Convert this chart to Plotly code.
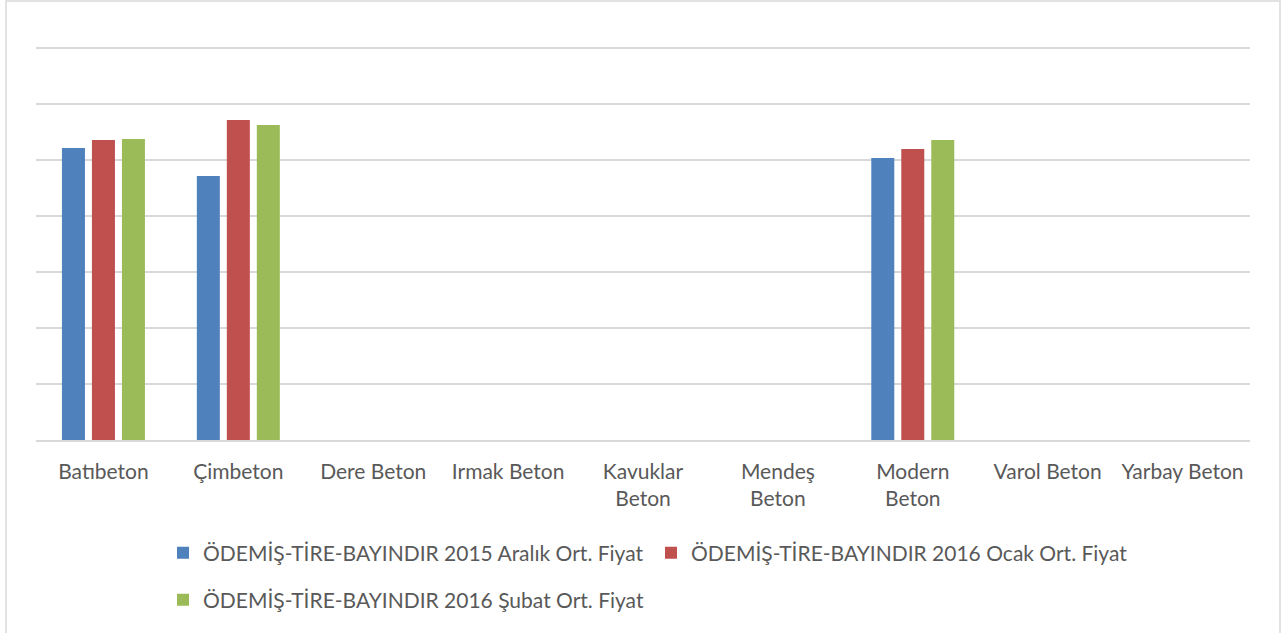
import plotly.graph_objects as go

categories = ["Batıbeton", "Çimbeton", "Dere Beton", "Irmak Beton", "Kavuklar<br>Beton",
              "Mendeş<br>Beton", "Modern<br>Beton", "Varol Beton", "Yarbay Beton"]
series_names = ["ÖDEMİŞ-TİRE-BAYINDIR 2015 Aralık Ort. Fiyat",
                "ÖDEMİŞ-TİRE-BAYINDIR 2016 Ocak Ort. Fiyat",
                "ÖDEMİŞ-TİRE-BAYINDIR 2016 Şubat Ort. Fiyat"]
aralik_2015 = [104.3, 94.3, None, None, None, None, 100.7, None, None]
ocak_2016 = [107.1, 114.3, None, None, None, None, 103.9, None, None]
subat_2016 = [107.5, 112.5, None, None, None, None, 107.1, None, None]
colors = ["#4F81BD", "#C0504D", "#9BBB59"]
legend_ids = ["legend", "legend", "legend2"]

fig = go.Figure()
for name, vals, c, lg in zip(series_names, [aralik_2015, ocak_2016, subat_2016], colors, legend_ids):
    fig.add_trace(go.Bar(x=categories, y=vals, name=name, marker_color=c,
                         marker_line_width=0, legend=lg))

W, H = 1286, 633
ml, mr, mt, mb = 36, 36, 45, 193
pw, ph = W - ml - mr, H - mt - mb

def px_x(x):
    return (x - ml) / pw

def px_y(y):
    return (H - mb - y) / ph

fig.add_shape(type="rect", xref="paper", yref="paper",
              x0=px_x(6), x1=px_x(1280), y0=px_y(645), y1=px_y(1),
              line=dict(color="#D9D9D9", width=1.5), fillcolor="rgba(0,0,0,0)", layer="below")

font = dict(family="Lato, 'Open Sans', sans-serif", size=21, color="#595959")
legend_common = dict(orientation="h", xanchor="left", yanchor="middle",
                     font=font, itemwidth=30, entrywidth=443,
                     bgcolor="rgba(0,0,0,0)")
fig.update_layout(
    width=W, height=H,
    margin=dict(l=ml, r=mr, t=mt, b=mb),
    paper_bgcolor="white", plot_bgcolor="white",
    barmode="group", bargap=0.333, bargroupgap=0.233,
    font=font,
    showlegend=True,
    legend=dict(x=px_x(163), y=px_y(553), **legend_common),
    legend2=dict(x=px_x(163), y=px_y(600), **legend_common),
    xaxis=dict(type="category", showgrid=False, showline=True, linecolor="#D9D9D9",
               linewidth=1.5, ticks="outside", ticklen=12, tickcolor="rgba(0,0,0,0)",
               tickfont=font, fixedrange=True),
    yaxis=dict(range=[0, ph / 2.8], dtick=20, showgrid=True, gridcolor="#D9D9D9", gridwidth=1.5,
               showticklabels=False, zeroline=False, fixedrange=True),
)
fig.write_html("out.html", config={"displayModeBar": False},
               post_script="document.body.style.margin='0';document.body.style.overflow='hidden';")
